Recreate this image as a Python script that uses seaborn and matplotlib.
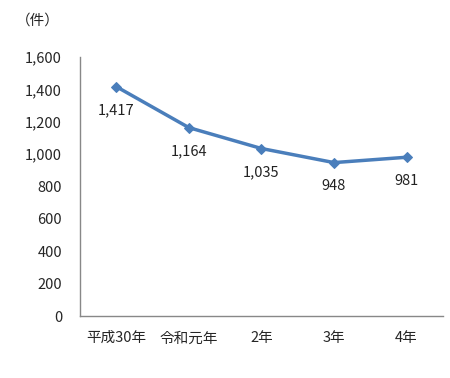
import seaborn as sns
import matplotlib.pyplot as plt
import pandas as pd

years = ["平成30年", "令和元年", "2年", "3年", "4年"]
counts = [1417, 1164, 1035, 948, 981]
yticks = [0, 200, 400, 600, 800, 1000, 1200, 1400, 1600]

sns.set_style("white")
plt.rcParams['font.family'] = ['Noto Sans CJK JP', 'DejaVu Sans']

df = pd.DataFrame({"年": years, "件数": counts})

fig = plt.figure(figsize=(4.5, 3.78), dpi=100)
ax = fig.add_axes([0.178, 0.164, 0.806, 0.685])

sns.lineplot(data=df, x="年", y="件数", ax=ax, color="#4a7ebb", lw=2.5,
             marker="D", markersize=5, markeredgecolor="#4a7ebb", sort=False)

for i, v in enumerate(counts):
    ax.annotate(f"{v:,}", (i, v), xytext=(0, -17), textcoords="offset points",
                ha="center", va="center", fontsize=10.5, color="#222222")

ax.set_xlim(-0.5, len(years) - 0.5)
ax.set_ylim(0, 1600)
ax.set_yticks(yticks)
ax.set_yticklabels([f"{t:,}" for t in yticks], fontsize=10.5)
ax.set_xticks(range(len(years)))
ax.set_xticklabels(years, fontsize=10.5)
ax.set_xlabel("")
ax.set_ylabel("")

# category ticks sit between labels
ax.set_xticks([i - 0.5 for i in range(len(years) + 1)], minor=True)
ax.tick_params(axis="x", which="major", length=0, pad=11)
ax.tick_params(axis="x", which="minor", direction="in", length=4, color="#888888")
ax.tick_params(axis="y", direction="out", length=4, color="#888888", pad=9)

for s in ["top", "right"]:
    ax.spines[s].set_visible(False)
for s in ["left", "bottom"]:
    ax.spines[s].set_color("#888888")
    ax.spines[s].set_linewidth(1)

fig.text(0.035, 0.945, "（件）", fontsize=10.5, ha="left", va="center")

fig.savefig("out.png", dpi=100)
